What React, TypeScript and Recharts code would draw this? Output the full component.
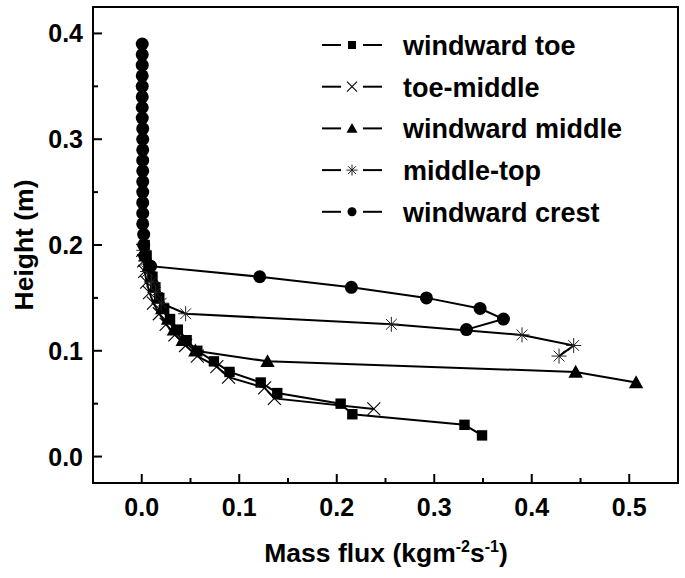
import React from 'react';
import { ScatterChart, Scatter, XAxis, YAxis, ReferenceArea, Customized } from 'recharts';

const FONT = '"Liberation Sans", Arial, Helvetica, sans-serif';

const seriesNames = ['windward toe', 'toe-middle', 'windward middle', 'middle-top', 'windward crest'];

const toeHeight = [0.02, 0.03, 0.04, 0.05, 0.06, 0.07, 0.08, 0.09, 0.10, 0.11, 0.12, 0.13, 0.14, 0.15, 0.16, 0.17, 0.18, 0.19, 0.20];
const toeFlux = [0.349, 0.331, 0.216, 0.204, 0.139, 0.122, 0.090, 0.074, 0.057, 0.046, 0.037, 0.029, 0.023, 0.018, 0.014, 0.011, 0.008, 0.005, 0.003];

const toeMidHeight = [0.045, 0.055, 0.065, 0.075, 0.085, 0.095, 0.105, 0.115, 0.125, 0.135, 0.145, 0.155, 0.165, 0.175, 0.185, 0.195];
const toeMidFlux = [0.238, 0.136, 0.126, 0.089, 0.077, 0.057, 0.045, 0.034, 0.025, 0.018, 0.012, 0.008, 0.005, 0.003, 0.002, 0.001];

const middleHeight = [0.07, 0.08, 0.09, 0.10, 0.11, 0.12, 0.13, 0.14, 0.15, 0.16, 0.17, 0.18, 0.19];
const middleFlux = [0.507, 0.445, 0.129, 0.055, 0.042, 0.033, 0.027, 0.021, 0.017, 0.013, 0.010, 0.007, 0.004];

const midTopHeight = [0.095, 0.105, 0.115, 0.125, 0.135, 0.145, 0.155, 0.165, 0.175, 0.185, 0.195];
const midTopFlux = [0.428, 0.443, 0.390, 0.256, 0.045, 0.020, 0.014, 0.010, 0.006, 0.004, 0.002];

const crestHeight = [0.12, 0.13, 0.14, 0.15, 0.16, 0.17, 0.18, 0.19, 0.20, 0.21, 0.22, 0.23, 0.24, 0.25, 0.26, 0.27, 0.28, 0.29, 0.30, 0.31, 0.32, 0.33, 0.34, 0.35, 0.36, 0.37, 0.38, 0.39];
const crestFlux = [0.333, 0.371, 0.347, 0.292, 0.215, 0.121, 0.009, 0.003, 0.002, 0.002, 0.001, 0.001, 0.001, 0.001, 0.001, 0.001, 0.001, 0.001, 0.001, 0.001, 0.0005, 0.0005, 0.0005, 0.0005, 0.0005, 0.0005, 0.0005, 0.0005];

const xTicks = [0, 0.05, 0.1, 0.15, 0.2, 0.25, 0.3, 0.35, 0.4, 0.45, 0.5];
const yTicks = [0, 0.05, 0.1, 0.15, 0.2, 0.25, 0.3, 0.35, 0.4];

const zip = (hs: number[], fs: number[]) => hs.map((h, i) => ({ x: fs[i], y: h }));

const SquareM = ({ cx, cy, s = 5.2 }: any) => <rect x={cx - s} y={cy - s} width={2 * s} height={2 * s} fill="#000" />;
const CrossM = ({ cx, cy, s = 6.5 }: any) => (
  <g stroke="#000" strokeWidth={1.1}>
    <line x1={cx - s} y1={cy - s} x2={cx + s} y2={cy + s} />
    <line x1={cx - s} y1={cy + s} x2={cx + s} y2={cy - s} />
  </g>
);
const TriM = ({ cx, cy, s = 7.2 }: any) => (
  <polygon points={`${cx},${cy - s} ${cx - s},${cy + s * 0.8} ${cx + s},${cy + s * 0.8}`} fill="#000" />
);
const StarM = ({ cx, cy, s = 7.5 }: any) => {
  const d = s * 0.72;
  return (
    <g stroke="#222" strokeWidth={1}>
      <line x1={cx} y1={cy - s} x2={cx} y2={cy + s} />
      <line x1={cx - s} y1={cy} x2={cx + s} y2={cy} />
      <line x1={cx - d} y1={cy - d} x2={cx + d} y2={cy + d} />
      <line x1={cx - d} y1={cy + d} x2={cx + d} y2={cy - d} />
    </g>
  );
};
const CircleM = ({ cx, cy, s = 6.5 }: any) => <circle cx={cx} cy={cy} r={s} fill="#000" />;

const markers = [SquareM, CrossM, TriM, StarM, CircleM];
const legendSizes = [4, 5, 5.5, 5.5, 4.5];

const XTick = (props: any) => {
  const { x, y, payload } = props;
  const v = payload.value;
  const major = Math.abs(Math.round(v * 10) - v * 10) < 1e-6;
  return (
    <g>
      <line x1={x} x2={x} y1={y} y2={y - (major ? 9 : 5)} stroke="#000" strokeWidth={2} />
      {major && (
        <text x={x} y={y + 33} textAnchor="middle" fontFamily={FONT} fontWeight="bold" fontSize={25} fill="#000">
          {v.toFixed(1)}
        </text>
      )}
    </g>
  );
};

const YTick = (props: any) => {
  const { x, y, payload } = props;
  const v = payload.value;
  const major = Math.abs(Math.round(v * 10) - v * 10) < 1e-6;
  return (
    <g>
      <line x1={x} x2={x + (major ? 9 : 5)} y1={y} y2={y} stroke="#000" strokeWidth={2} />
      {major && (
        <text x={x - 10} y={y + 9} textAnchor="end" fontFamily={FONT} fontWeight="bold" fontSize={25} fill="#000">
          {v.toFixed(1)}
        </text>
      )}
    </g>
  );
};

const LegendBlock = () => (
  <g fontFamily={FONT} fontWeight="bold" fontSize={27}>
    {seriesNames.map((name, i) => {
      const cy = 45 + i * 41.7;
      const M = markers[i];
      return (
        <g key={name}>
          <line x1={322} x2={341} y1={cy} y2={cy} stroke="#000" strokeWidth={2} />
          <line x1={363} x2={382} y1={cy} y2={cy} stroke="#000" strokeWidth={2} />
          <M cx={352} cy={cy} s={legendSizes[i]} />
          <text x={403} y={cy + 10} fill="#000">{name}</text>
        </g>
      );
    })}
  </g>
);

const AxisTitles = () => (
  <g fontFamily={FONT} fontWeight="bold" fontSize={26.5} fill="#000">
    <text x={386} y={562} textAnchor="middle">
      Mass flux (kgm<tspan dy={-10} fontSize={16}>-2</tspan>
      <tspan dy={10}>s</tspan>
      <tspan dy={-10} fontSize={16}>-1</tspan>
      <tspan dy={10}>)</tspan>
    </text>
    <text transform="translate(33,245) rotate(-90)" textAnchor="middle">Height (m)</text>
  </g>
);

const seriesData = [
  zip(toeHeight, toeFlux),
  zip(toeMidHeight, toeMidFlux),
  zip(middleHeight, middleFlux),
  zip(midTopHeight, midTopFlux),
  zip(crestHeight, crestFlux),
];

export default function App() {
  return (
    <div style={{ position: 'absolute', left: 0, top: 0, width: 685, height: 578, background: '#fff' }}>
      <ScatterChart width={685} height={578} margin={{ top: 7, right: 7, bottom: 0, left: 0 }}>
        <XAxis
          type="number"
          dataKey="x"
          domain={[-0.05, 0.55]}
          allowDataOverflow
          ticks={xTicks}
          interval={0}
          tick={<XTick />}
          tickLine={false}
          tickSize={0}
          tickMargin={0}
          height={95}
          axisLine={{ stroke: '#000', strokeWidth: 2 }}
        />
        <YAxis
          type="number"
          dataKey="y"
          domain={[-0.025, 0.425]}
          allowDataOverflow
          ticks={yTicks}
          interval={0}
          tick={<YTick />}
          tickLine={false}
          tickSize={0}
          tickMargin={0}
          width={93}
          axisLine={{ stroke: '#000', strokeWidth: 2 }}
        />
        <ReferenceArea x1={-0.05} x2={0.55} y1={-0.025} y2={0.425} fill="none" fillOpacity={0} stroke="#000" strokeWidth={2} />
        {seriesData.map((d, i) => {
          const M = markers[i];
          return (
            <Scatter
              key={seriesNames[i]}
              name={seriesNames[i]}
              data={d}
              isAnimationActive={false}
              line={{ stroke: '#000', strokeWidth: 2 }}
              shape={(p: any) => <M cx={p.cx} cy={p.cy} />}
            />
          );
        })}
        <Customized component={LegendBlock} />
        <Customized component={AxisTitles} />
      </ScatterChart>
    </div>
  );
}
